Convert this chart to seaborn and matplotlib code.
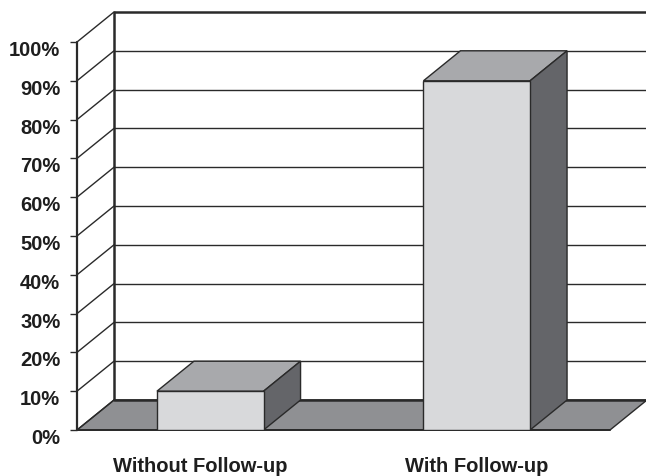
import matplotlib
matplotlib.use("Agg")
import matplotlib.pyplot as plt
import matplotlib.transforms as mtransforms
from matplotlib.patches import Polygon
import seaborn as sns
import pandas as pd

# Data
categories = ["Without Follow-up", "With Follow-up"]
values = [10, 90]
tick_values = [0, 10, 20, 30, 40, 50, 60, 70, 80, 90, 100]
tick_labels = [f"{v}%" for v in tick_values]

# Colours of the 3D faces
FRONT = "#d8d9db"
TOP = "#a8a9ac"
SIDE = "#646569"
FLOOR = "#8f9093"
EDGE = "#2a2a2a"
TEXT = "#1e1e1e"

sns.set_theme(style="white")
plt.rcParams["font.family"] = ["Liberation Sans", "DejaVu Sans"]

W, H, DPI = 646, 477, 100
fig = plt.figure(figsize=(W / DPI, H / DPI), dpi=DPI)
fig.patch.set_facecolor("white")

# front plane of the 3D box, in pixels
left_px, right_px, bottom_px, top_px = 77, 610, 431, 43
ax = fig.add_axes([left_px / W, (H - bottom_px) / H,
                   (right_px - left_px) / W, (bottom_px - top_px) / H])
ax.set_xlim(-0.5, 1.5)
ax.set_ylim(0, 100)
ax.patch.set_alpha(0)
for s in ax.spines.values():
    s.set_visible(False)

# depth offset of the box (pixels -> data units)
px_x = (right_px - left_px) / 2.0
px_y = (bottom_px - top_px) / 100.0
DX = 37 / px_x
DY = 30 / px_y

x0, x1 = -0.5, 1.5

# back wall gridlines
for v in tick_values:
    lw = 1.8 if v == 100 else 1.0
    ax.plot([x0 + DX, x1 + DX + 0.2], [v + DY, v + DY], color=EDGE, lw=lw,
            zorder=1, clip_on=False, solid_capstyle="butt")
# back wall left edge
ax.plot([x0 + DX, x0 + DX], [DY, 100 + DY], color=EDGE, lw=1.8, zorder=1.5,
        clip_on=False)

# floor
floor = Polygon([(x0, 0), (x1, 0), (x1 + DX, DY), (x0 + DX, DY)], closed=True,
                facecolor=FLOOR, edgecolor=EDGE, lw=1.0, zorder=2, clip_on=False)
ax.add_patch(floor)
ax.plot([x0 + DX, x1 + DX], [DY, DY], color=EDGE, lw=1.8, zorder=2.1,
        clip_on=False)

# left wall gridlines
for v in tick_values:
    ax.plot([x0, x0 + DX], [v, v + DY], color=EDGE, lw=1.0, zorder=2.2,
            clip_on=False)
# front vertical axis
ax.plot([x0, x0], [0, 100], color=EDGE, lw=1.6, zorder=2.3, clip_on=False)
ax.plot([x0, x1], [0, 0], color=EDGE, lw=1.4, zorder=2.3, clip_on=False)

# bar front faces
df = pd.DataFrame({"category": categories, "value": values})
sns.barplot(data=df, x="category", y="value", ax=ax, width=0.4, color=FRONT,
            saturation=1, edgecolor=EDGE, linewidth=1.0, zorder=5)
ax.set_xlim(-0.5, 1.5)
ax.set_ylim(0, 100)

# top and side faces of each bar
for p in list(ax.patches):
    if p is floor:
        continue
    bx, bw, bh = p.get_x(), p.get_width(), p.get_height()
    top = Polygon([(bx, bh), (bx + bw, bh), (bx + bw + DX, bh + DY), (bx + DX, bh + DY)],
                  closed=True, facecolor=TOP, edgecolor=EDGE, lw=1.0, zorder=4,
                  clip_on=False)
    side = Polygon([(bx + bw, 0), (bx + bw, bh), (bx + bw + DX, bh + DY), (bx + bw + DX, DY)],
                   closed=True, facecolor=SIDE, edgecolor=EDGE, lw=1.0, zorder=4,
                   clip_on=False)
    ax.add_patch(top)
    ax.add_patch(side)

# axis labels
ax.set_xlabel("")
ax.set_ylabel("")
ax.set_yticks(tick_values)
ax.set_yticklabels(tick_labels)
ax.tick_params(axis="y", length=5, width=1.0, color=EDGE, pad=7.0, left=True,
               labelsize=14.5, labelcolor=TEXT)
ax.tick_params(axis="x", length=0, pad=18.5, labelsize=14.5, labelcolor=TEXT)
for lab in ax.get_yticklabels():
    lab.set_fontweight("bold")
    lab.set_transform(lab.get_transform() +
                      mtransforms.ScaledTranslation(0, -5.5 / DPI, fig.dpi_scale_trans))
x_shift = [-10, 0]
for lab, sh in zip(ax.get_xticklabels(), x_shift):
    lab.set_fontweight("bold")
    lab.set_transform(lab.get_transform() +
                      mtransforms.ScaledTranslation(sh / DPI, 0, fig.dpi_scale_trans))

fig.savefig("out.png", dpi=DPI, facecolor="white")
